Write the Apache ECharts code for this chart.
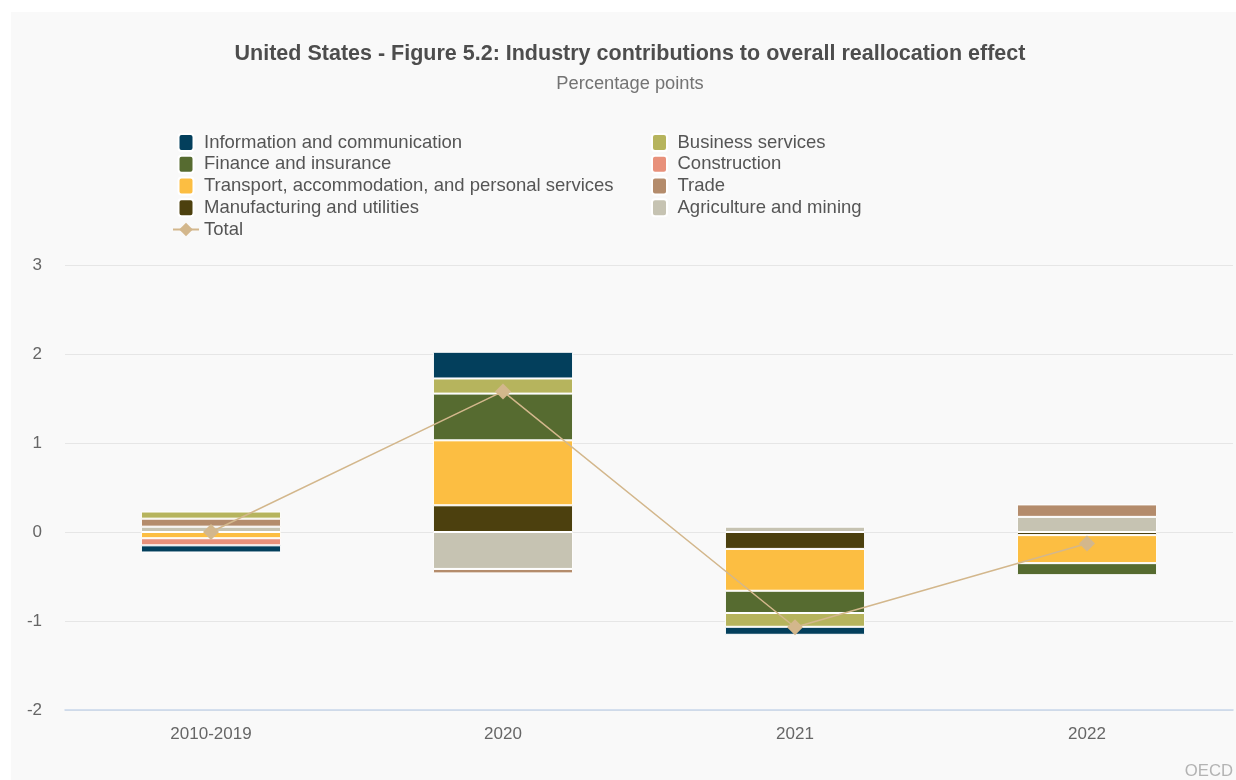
<!DOCTYPE html>
<html>
<head>
<meta charset="utf-8">
<script src="https://cdn.jsdelivr.net/npm/echarts@6/dist/echarts.min.js"></script>
<style>
    body { margin: 0; background: #ffffff; }
    #chart { position: absolute; left: 11px; top: 12px; width: 1225px; height: 768px; }
</style>
</head>
<body>
<div id="chart"></div>
<script>
    // categories and values (percentage points)
    var categories = ['2010-2019', '2020', '2021', '2022'];
    var infoComm = [-0.08, 0.30, -0.09, null];
    var business = [0.08, 0.17, -0.155, null];
    var finance = [null, 0.525, -0.25, -0.135];
    var construction = [-0.08, null, null, null];
    var transport = [-0.07, 0.73, -0.47, -0.315];
    var trade = [0.09, -0.05, null, 0.14];
    var manufacturing = [null, 0.30, -0.19, -0.035];
    var agriculture = [0.06, -0.415, 0.06, 0.17];
    var total = [0.0, 1.58, -1.07, -0.13];
    var yTicks = [-2, -1, 0, 1, 2, 3];

    var fontFamily = 'Liberation Sans, Arial, sans-serif';
    // rounded box for the legend, kept to its shape inside the wider legend slot
    var squareIcon = 'path://M3,0 L12,0 Q15,0 15,3 L15,14 Q15,17 12,17 L3,17 Q0,17 0,14 L0,3 Q0,0 3,0 Z';

    // stacking goes from the zero line outwards in this order
    var barDefs = [
        {name: 'Agriculture and mining', data: agriculture, color: '#c6c3b2'},
        {name: 'Manufacturing and utilities', data: manufacturing, color: '#4c400e'},
        {name: 'Trade', data: trade, color: '#b48c6c'},
        {name: 'Transport, accommodation, and personal services', data: transport, color: '#fcbe42'},
        {name: 'Construction', data: construction, color: '#e8917b'},
        {name: 'Finance and insurance', data: finance, color: '#566b30'},
        {name: 'Business services', data: business, color: '#b6b45d'},
        {name: 'Information and communication', data: infoComm, color: '#033f5c'}
    ];

    var series = barDefs.map(function (d) {
        return {
            name: d.name,
            type: 'bar',
            stack: 'all',
            barWidth: '48%',
            data: d.data,
            itemStyle: {color: d.color, borderColor: '#ffffff', borderWidth: 1}
        };
    });
    series.push({
        name: 'Total',
        type: 'line',
        data: total,
        z: 5,
        symbol: 'diamond',
        symbolSize: 16,
        lineStyle: {color: '#d3b78c', width: 1.5},
        itemStyle: {color: '#d3b78c'}
    });

    function sq(name) {
        return {name: name, icon: squareIcon};
    }

    var legendCommon = {
        orient: 'vertical',
        top: 116,
        itemWidth: 26,
        itemHeight: 17,
        itemGap: 2.75,
        symbolKeepAspect: true,
        textStyle: {fontSize: 18.5, color: '#555555', fontFamily: fontFamily, lineHeight: 17}
    };

    var myChart = echarts.init(document.getElementById('chart'));
    myChart.setOption({
        backgroundColor: '#f9f9f9',
        title: {
            text: 'United States - Figure 5.2: Industry contributions to overall reallocation effect',
            subtext: 'Percentage points',
            left: 614,
            textAlign: 'center',
            top: 26,
            itemGap: 10,
            textStyle: {fontSize: 21.5, fontWeight: 'bold', color: '#4d4d4d', fontFamily: fontFamily},
            subtextStyle: {fontSize: 18.3, color: '#737373', fontFamily: fontFamily}
        },
        legend: [
            Object.assign({}, legendCommon, {
                left: 156,
                data: [
                    sq('Information and communication'),
                    sq('Finance and insurance'),
                    sq('Transport, accommodation, and personal services'),
                    sq('Manufacturing and utilities'),
                    'Total'
                ]
            }),
            Object.assign({}, legendCommon, {
                left: 635,
                data: [sq('Business services'), sq('Construction'), sq('Trade'), sq('Agriculture and mining')]
            })
        ],
        grid: {left: 54, right: 3, top: 253, bottom: 70, containLabel: false},
        xAxis: {
            type: 'category',
            data: categories,
            axisLine: {onZero: false, lineStyle: {color: '#c8d6ea', width: 1.5}},
            axisTick: {show: false},
            axisLabel: {fontSize: 17, color: '#666666', margin: 16, fontFamily: fontFamily}
        },
        yAxis: {
            type: 'value',
            min: yTicks[0],
            max: yTicks[yTicks.length - 1],
            interval: 1,
            axisLine: {show: false},
            axisTick: {show: false},
            splitLine: {lineStyle: {color: '#e6e6e6'}},
            axisLabel: {fontSize: 17, color: '#666666', margin: 23, fontFamily: fontFamily}
        },
        graphic: [{
            type: 'text',
            right: 3,
            bottom: 0,
            style: {text: 'OECD', fontSize: 16.7, fill: '#b3b3b3', fontFamily: fontFamily}
        }],
        series: series
    });
</script>
</body>
</html>
